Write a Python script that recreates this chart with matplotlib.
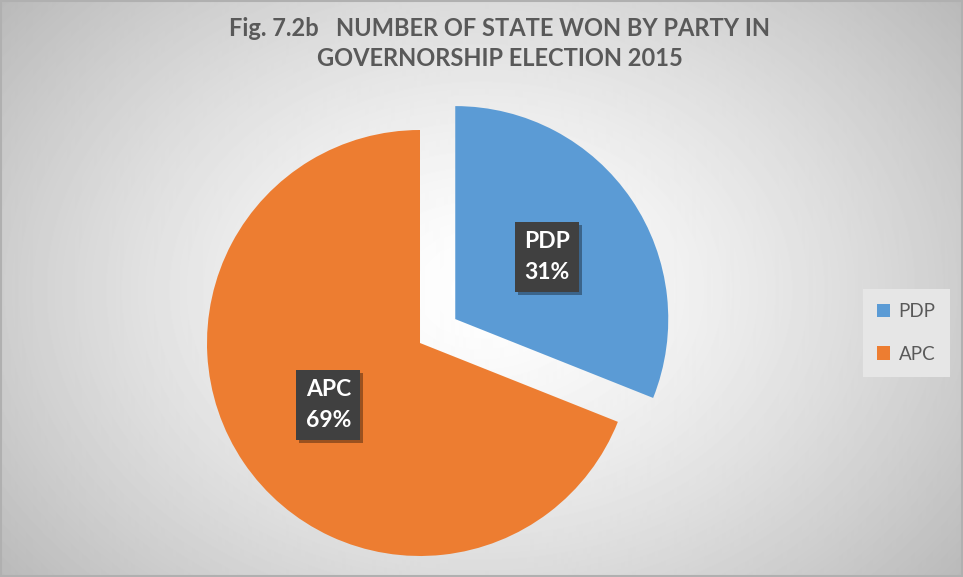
import matplotlib
matplotlib.use('Agg')
import matplotlib.pyplot as plt
import matplotlib.patheffects as pe
from matplotlib.patches import Rectangle
import numpy as np

# data: states won per party (2015 governorship election)
parties = ['PDP', 'APC']
states_won = [9, 20]
colors = ['#5B9BD5', '#ED7D31']
title = 'Fig. 7.2b   NUMBER OF STATE WON BY PARTY IN\nGOVERNORSHIP ELECTION 2015'

plt.rcParams['font.family'] = ['Lato', 'DejaVu Sans']
plt.rcParams['hatch.color'] = '#5c5c5c'
plt.rcParams['hatch.linewidth'] = 2.0

W, H = 963, 577
fig = plt.figure(figsize=(W / 100, H / 100), dpi=100)

# radial grey background
bg = fig.add_axes([0, 0, 1, 1])
yy, xx = np.mgrid[0:H, 0:W]
r = np.sqrt(((xx - 480) / 560.0) ** 2 + ((yy - 290) / 420.0) ** 2)
shade = 1.0 - 0.24 * np.clip(r, 0, 1.2) ** 1.4
bg.imshow(shade, cmap='gray', vmin=0, vmax=1, extent=[0, 1, 0, 1], aspect='auto')
bg.axis('off')
bg.add_patch(Rectangle((0.001, 0.001), 0.998, 0.997, transform=bg.transAxes,
                       fill=False, edgecolor='#b0b0b0', lw=1.5))

# pie axes: square box of 480px centred on (420, 343)
cx, cy, rad, box = 420, 343, 213, 480
ax = fig.add_axes([(cx - box / 2) / W, (H - cy - box / 2) / H, box / W, box / H])
lim = box / 2 / rad
wedges, texts, autotexts = ax.pie(
    states_won, colors=colors, startangle=90, counterclock=False,
    explode=[0.2, 0], pctdistance=0.52,
    autopct=lambda p: '', wedgeprops=dict(linewidth=0))
ax.set_xlim(-lim, lim)
ax.set_ylim(-lim, lim)
ax.set_aspect('equal')
ax.axis('off')

total = sum(states_won)
for name, v, t in zip(parties, states_won, autotexts):
    t.set_text('%s\n%d%%' % (name, round(v / total * 100)))
    t.set_color('white')
    t.set_fontsize(16.5)
    t.set_fontweight('bold')
    t.set_linespacing(1.55)
    t.set_ha('center')
    t.set_va('center')
    t.set_bbox(dict(boxstyle='square,pad=0.4', facecolor='#404040',
                    edgecolor='none', hatch='.'))
    t.get_bbox_patch().set_path_effects(
        [pe.SimplePatchShadow(offset=(2, -2), shadow_rgbFace='black', alpha=0.35),
         pe.Normal()])

fig.text(0.519, 0.970, title, ha='center', va='top', fontsize=17,
         fontweight='bold', color='#595959', linespacing=1.35)

leg = fig.legend(wedges, parties, loc='center', bbox_to_anchor=(0.941, 0.423),
                 frameon=True, fancybox=False, handlelength=0.7, handleheight=0.7,
                 handletextpad=0.45, labelspacing=1.35, fontsize=13.5,
                 borderpad=0.75, labelcolor='#595959')
leg.get_frame().set_facecolor('#e6e6e6')
leg.get_frame().set_edgecolor('none')
leg.get_frame().set_alpha(1)

fig.savefig('out.png', dpi=100)
